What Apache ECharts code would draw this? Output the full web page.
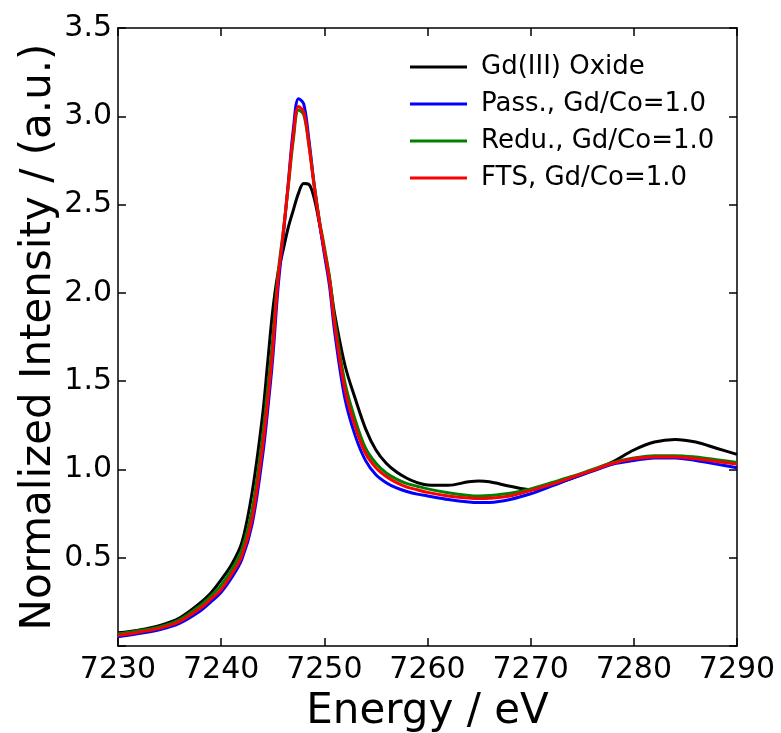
<!DOCTYPE html>
<html>
<head>
<meta charset="utf-8">
<script src="https://cdn.jsdelivr.net/npm/echarts@6/dist/echarts.min.js"></script>
<style>
  html, body { margin: 0; padding: 0; background: #fff; }
  #chart { width: 781px; height: 733px; }
</style>
</head>
<body>
<div id="chart"></div>
<script>
// Gd L3-edge XANES spectra
const energy = [7230, 7232, 7234, 7236, 7238, 7239, 7240, 7241, 7242, 7243, 7244, 7244.5, 7245, 7245.5, 7246, 7246.5, 7247, 7247.5, 7248, 7248.5, 7249, 7249.5, 7250, 7250.5, 7251, 7252, 7253, 7254, 7255, 7256, 7257, 7258, 7259, 7260, 7262, 7264, 7265, 7266, 7268, 7270, 7272, 7274, 7276, 7278, 7280, 7282, 7284, 7286, 7288, 7290];

const gdOxide = [0.075, 0.09, 0.115, 0.16, 0.245, 0.30, 0.375, 0.46, 0.585, 0.87, 1.30, 1.60, 1.90, 2.11, 2.24, 2.37, 2.47, 2.565, 2.62, 2.615, 2.54, 2.40, 2.24, 2.08, 1.88, 1.59, 1.40, 1.23, 1.11, 1.035, 0.985, 0.95, 0.925, 0.912, 0.91, 0.93, 0.935, 0.93, 0.905, 0.885, 0.912, 0.95, 0.995, 1.045, 1.11, 1.155, 1.17, 1.155, 1.12, 1.085];

const passivated = [0.052, 0.07, 0.092, 0.13, 0.20, 0.25, 0.305, 0.385, 0.49, 0.69, 1.07, 1.33, 1.63, 2.02, 2.31, 2.62, 2.93, 3.10, 3.07, 2.87, 2.62, 2.41, 2.22, 2.04, 1.78, 1.40, 1.19, 1.05, 0.97, 0.925, 0.895, 0.875, 0.86, 0.85, 0.83, 0.815, 0.812, 0.813, 0.83, 0.862, 0.905, 0.95, 0.99, 1.03, 1.05, 1.065, 1.065, 1.05, 1.03, 1.01];

const reduced = [0.068, 0.086, 0.108, 0.15, 0.23, 0.283, 0.345, 0.43, 0.545, 0.77, 1.18, 1.45, 1.74, 2.10, 2.34, 2.60, 2.87, 3.035, 3.01, 2.84, 2.62, 2.42, 2.26, 2.09, 1.85, 1.49, 1.28, 1.12, 1.035, 0.98, 0.945, 0.92, 0.905, 0.89, 0.868, 0.853, 0.85, 0.852, 0.865, 0.89, 0.925, 0.96, 1.0, 1.04, 1.065, 1.078, 1.078, 1.07, 1.055, 1.04];

const fts = [0.06, 0.078, 0.10, 0.14, 0.215, 0.265, 0.32, 0.405, 0.51, 0.72, 1.12, 1.38, 1.68, 2.07, 2.33, 2.61, 2.895, 3.055, 3.025, 2.84, 2.61, 2.41, 2.24, 2.07, 1.82, 1.45, 1.24, 1.09, 1.01, 0.96, 0.925, 0.90, 0.885, 0.87, 0.85, 0.838, 0.835, 0.837, 0.85, 0.88, 0.915, 0.955, 0.995, 1.035, 1.06, 1.07, 1.07, 1.06, 1.045, 1.03];

const seriesNames = ['Gd(III) Oxide', 'Pass., Gd/Co=1.0', 'Redu., Gd/Co=1.0', 'FTS, Gd/Co=1.0'];
const seriesColors = ['#000000', '#0000ff', '#008000', '#ff0000'];
const seriesValues = [gdOxide, passivated, reduced, fts];

const xTicks = { min: 7230, max: 7290, interval: 10 };
const yTicks = { min: 0, max: 3.5, interval: 0.5 };

const FONT = 'DejaVu Sans';
const frameLine = { show: true, onZero: false, lineStyle: { color: '#000', width: 1.5 } };
const innerTick = { show: true, inside: true, length: 8, lineStyle: { color: '#000', width: 1.5 } };

const chart = echarts.init(document.getElementById('chart'), null, { renderer: 'canvas' });

chart.setOption({
  animation: false,
  backgroundColor: '#fff',
  grid: { left: 118, right: 44, top: 28, bottom: 87, outerBoundsMode: 'none', containLabel: false },
  legend: {
    orient: 'vertical',
    left: 405,
    top: 49,
    itemWidth: 57,
    itemHeight: 3,
    itemGap: 11,
    icon: 'rect',
    textStyle: { fontFamily: FONT, fontSize: 26, color: '#000', padding: [0, 0, 0, 9] },
    data: seriesNames
  },
  xAxis: [
    {
      type: 'value', position: 'bottom',
      min: xTicks.min, max: xTicks.max, interval: xTicks.interval,
      name: 'Energy / eV', nameLocation: 'middle', nameGap: 45, nameMoveOverlap: false,
      nameTextStyle: { fontFamily: FONT, fontSize: 42, color: '#000' },
      axisLine: frameLine, axisTick: innerTick,
      axisLabel: { fontFamily: FONT, fontSize: 30, color: '#000', margin: 9, formatter: v => String(v) },
      splitLine: { show: false }
    },
    {
      type: 'value', position: 'top',
      min: xTicks.min, max: xTicks.max, interval: xTicks.interval,
      axisLine: frameLine, axisTick: innerTick,
      axisLabel: { show: false }, splitLine: { show: false }
    }
  ],
  yAxis: [
    {
      type: 'value', position: 'left',
      min: yTicks.min, max: yTicks.max, interval: yTicks.interval,
      name: 'Normalized Intensity / (a.u.)', nameLocation: 'middle', nameGap: 58, nameMoveOverlap: false,
      nameTextStyle: { fontFamily: FONT, fontSize: 42, color: '#000' },
      axisLine: frameLine, axisTick: innerTick,
      axisLabel: {
        fontFamily: FONT, fontSize: 30, color: '#000', margin: 6,
        formatter: v => (v === 0 ? '' : v.toFixed(1))
      },
      splitLine: { show: false }
    },
    {
      type: 'value', position: 'right',
      min: yTicks.min, max: yTicks.max, interval: yTicks.interval,
      axisLine: frameLine, axisTick: innerTick,
      axisLabel: { show: false }, splitLine: { show: false }
    }
  ],
  series: seriesNames.map((name, i) => ({
    name,
    type: 'line',
    xAxisIndex: 0,
    yAxisIndex: 0,
    data: energy.map((e, k) => [e, seriesValues[i][k]]),
    showSymbol: false,
    smooth: 0.35,
    lineStyle: { color: seriesColors[i], width: 3 },
    itemStyle: { color: seriesColors[i] },
    z: 2 + i
  }))
});
</script>
</body>
</html>
